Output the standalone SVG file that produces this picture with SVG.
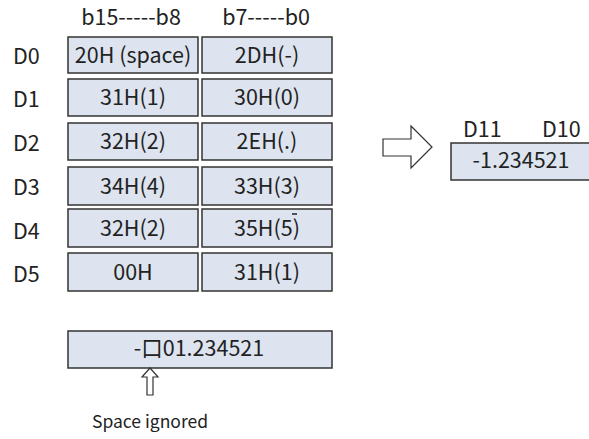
<svg xmlns="http://www.w3.org/2000/svg" width="589" height="439" viewBox="0 0 589 439">
<style>
.t{font-family:"Noto Sans CJK SC","Noto Sans",sans-serif;font-size:21.5px;fill:#222}
.c{text-anchor:middle}
.b{fill:#dde4ef;stroke:#333;stroke-width:1.5}
.a{fill:#fff;stroke:#333;stroke-width:1.2}
</style>
<rect width="589" height="439" fill="#fff"/>
<g id="headers">
<text class="t c" x="131" y="25">b15-----b8</text>
<text class="t c" x="266" y="25">b7-----b0</text>
</g>
<g id="D0"><text class="t" x="13" y="64">D0</text>
<rect class="b" x="68" y="37" width="130" height="36"/><text class="t c" x="133" y="63">20H (space)</text>
<rect class="b" x="202" y="37" width="130" height="36"/><text class="t c" x="267" y="63">2DH(-)</text></g>
<g id="D1"><text class="t" x="13" y="107">D1</text>
<rect class="b" x="68" y="79" width="130" height="37"/><text class="t c" x="133" y="105">31H(1)</text>
<rect class="b" x="202" y="79" width="130" height="37"/><text class="t c" x="267" y="105">30H(0)</text></g>
<g id="D2"><text class="t" x="13" y="151">D2</text>
<rect class="b" x="68" y="123" width="130" height="37"/><text class="t c" x="133" y="149">32H(2)</text>
<rect class="b" x="202" y="123" width="130" height="37"/><text class="t c" x="267" y="149">2EH(.)</text></g>
<g id="D3"><text class="t" x="13" y="195">D3</text>
<rect class="b" x="68" y="167" width="130" height="38"/><text class="t c" x="133" y="194">34H(4)</text>
<rect class="b" x="202" y="167" width="130" height="38"/><text class="t c" x="267" y="194">33H(3)</text></g>
<g id="D4"><text class="t" x="13" y="239">D4</text>
<rect class="b" x="68" y="209" width="130" height="38"/><text class="t c" x="133" y="236">32H(2)</text>
<rect class="b" x="202" y="209" width="130" height="38"/><text class="t c" x="267" y="236">35H(5)</text>
<line x1="292" y1="214" x2="297" y2="214" stroke="#222" stroke-width="1.5"/></g>
<g id="D5"><text class="t" x="13" y="282">D5</text>
<rect class="b" x="68" y="253" width="130" height="38"/><text class="t c" x="133" y="280">00H</text>
<rect class="b" x="202" y="253" width="130" height="38"/><text class="t c" x="267" y="280">31H(1)</text></g>
<g id="result">
<rect class="b" x="68" y="331" width="264" height="37"/><text class="t c" x="199" y="356">-口01.234521</text>
</g>
<g id="out">
<text class="t" x="463" y="137">D11</text>
<text class="t" x="542" y="137">D10</text>
<rect class="b" x="451" y="143" width="140" height="37"/><text class="t c" x="521" y="168">-1.234521</text>
</g>
<g id="connectors">
<path class="a" d="M383,139 H411 V126 L432,147 L411,168 V156 H383 Z"/>
<path class="a" d="M150,368 L158,377 H153 V395 H147 V377 H142 Z"/>
</g>
<g id="note"><text class="t" x="92" y="428" style="font-size:17.5px">Space ignored</text></g>
</svg>
